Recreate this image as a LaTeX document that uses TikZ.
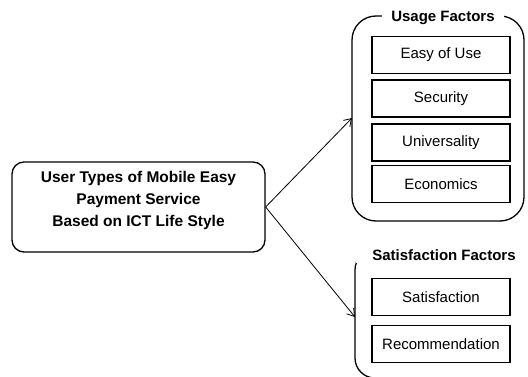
\documentclass[tikz,border=0pt]{standalone}
\usepackage{fontspec}
\setmainfont{Liberation Sans}
\usetikzlibrary{arrows.meta}
\begin{document}
\begin{tikzpicture}[x={(1pt,0)},y={(0,-1pt)},
  grp/.style={draw,line width=1.3pt,rounded corners=24pt},
  item/.style={draw,line width=1.2pt,minimum width=138pt,minimum height=37pt,inner sep=0pt,font=\fontsize{15}{18}\selectfont},
  grptitle/.style={fill=white,inner xsep=9pt,inner ysep=2pt,font=\fontsize{15}{18}\selectfont\bfseries},
  conn/.style={line width=0.8pt,-{Straight Barb[length=7pt,width=9pt]}}]
\useasboundingbox (0,0) rectangle (528,377);
\begin{scope}
\clip (0,0) rectangle (528,377);
% main box
\node[draw,line width=1.3pt,rounded corners=12pt,minimum width=253pt,minimum height=90pt,align=center,
  text depth=16pt,
  font=\fontsize{15.5}{22}\selectfont\bfseries] (main) at (138.5,207) {User Types of Mobile Easy\\Payment Service\\Based on ICT Life Style};
% usage group
\draw[grp] (352,16) rectangle (524,221);
\node[grptitle] (ut) at (443,18) {Usage Factors};
\node[item] (u1) at (441,55) {Easy of Use};
\node[item] (u2) at (441,98.5) {Security};
\node[item] (u3) at (441,142.5) {Universality};
\node[item] (u4) at (441,184) {Economics};
\coordinate (ua) at (352,118);
% satisfaction group
\draw[grp,rounded corners=20pt] (355,250) rectangle (545,378);
\node[grptitle,inner xsep=16pt] (st) at (444,255) {Satisfaction Factors};
\node[item] (s1) at (441,297) {Satisfaction};
\node[item] (s2) at (441,344) {Recommendation};
\coordinate (sa) at (355,317);
\end{scope}
\draw[conn] (main.east) -- (ua);
\draw[conn] (main.east) -- (sa);
\end{tikzpicture}
\end{document}
